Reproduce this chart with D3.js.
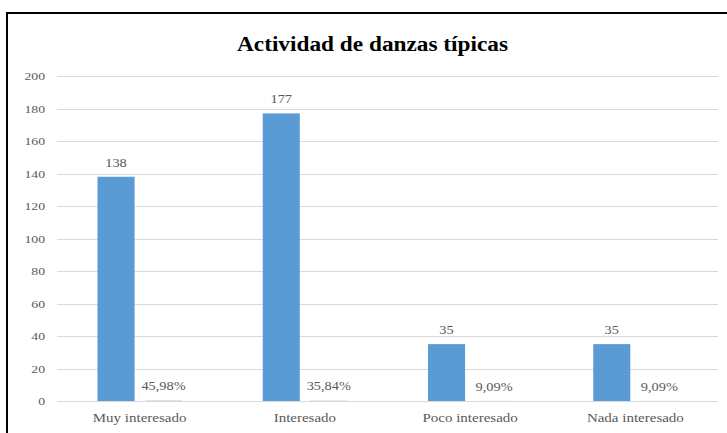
<!DOCTYPE html>
<html><head><meta charset="utf-8">
<script src="https://cdn.jsdelivr.net/npm/d3@7"></script>
<style>
html,body{margin:0;padding:0;background:#fff;}
svg{display:block;}
</style></head>
<body>
<svg id="chart" width="727" height="433"></svg>
<script>
const title = "Actividad de danzas típicas";
const categories = ["Muy interesado", "Interesado", "Poco interesado", "Nada interesado"];
const counts = [138, 177, 35, 35];
const percents = [0.4598, 0.3584, 0.0909, 0.0909];
const percentLabels = ["45,98%", "35,84%", "9,09%", "9,09%"];
const yTicks = [0, 20, 40, 60, 80, 100, 120, 140, 160, 180, 200];
const seriesNames = ["count", "percent"];

const svg = d3.select("#chart");
const serif = '"Liberation Serif", "Times New Roman", serif';
const grey = "#595959";
const sx = 1.25;

// frame
svg.append("rect").attr("x", 7).attr("y", 13).attr("width", 760).attr("height", 460)
  .attr("fill", "none").attr("stroke", "#000").attr("stroke-width", 2);

svg.append("text").attr("x", 237).attr("y", 51)
  .style("font-family", serif).attr("font-weight", "bold").attr("font-size", 20)
  .attr("textLength", 271).attr("lengthAdjust", "spacingAndGlyphs")
  .attr("fill", "#000").text(title);

const plot = {left: 57, right: 718, top: 76, bottom: 401};
const y = d3.scaleLinear().domain([0, 200]).range([plot.bottom, plot.top]);
const x0 = d3.scaleBand().domain(categories).range([plot.left, plot.right]).padding(0);
const bw = x0.bandwidth();
const x1 = d3.scaleBand().domain(seriesNames).range([bw * 0.245, bw * 0.757]).paddingInner(0.22);

// grid
svg.append("g").selectAll("line").data(yTicks).join("line")
  .attr("x1", plot.left).attr("x2", plot.right)
  .attr("y1", d => Math.round(y(d)) + 0.5).attr("y2", d => Math.round(y(d)) + 0.5)
  .attr("stroke", "#d9d9d9").attr("stroke-width", 1);

// y axis labels
const yAxis = d3.axisLeft(y).tickValues(yTicks).tickSize(0).tickPadding(0);
const ya = svg.append("g").attr("transform", `translate(45,0)`).call(yAxis);
ya.select(".domain").remove();
ya.selectAll("text").attr("x", 0).style("font-family", serif).attr("font-size", 11).attr("fill", grey)
  .attr("transform", `scale(${sx},1)`);

// x axis labels
const xAxis = d3.axisBottom(x0).tickSize(0).tickPadding(0);
const xa = svg.append("g").attr("transform", `translate(0,${plot.bottom + 12})`).call(xAxis);
xa.select(".domain").remove();
xa.selectAll("text").style("font-family", serif).attr("font-size", 12.5).attr("fill", grey)
  .attr("transform", `scale(1.2,1)`);

const rows = categories.map((c, i) => ({c, count: counts[i], pct: percents[i], pl: percentLabels[i]}));
const g = svg.append("g");
g.selectAll("rect.c").data(rows).join("rect").attr("class", "c")
  .attr("x", d => x0(d.c) + x1("count")).attr("width", x1.bandwidth())
  .attr("y", d => y(d.count)).attr("height", d => y(0) - y(d.count))
  .attr("fill", "#5b9bd5");
g.selectAll("rect.p").data(rows).join("rect").attr("class", "p")
  .attr("x", d => x0(d.c) + x1("percent")).attr("width", x1.bandwidth())
  .attr("y", d => y(d.pct)).attr("height", d => y(0) - y(d.pct))
  .attr("fill", "#d9d9d9");
g.selectAll("text.c").data(rows).join("text").attr("class", "c")
  .attr("transform", d => `translate(${x0(d.c) + x1("count") + x1.bandwidth() / 2},${y(d.count) - 10}) scale(${sx},1)`)
  .attr("text-anchor", "middle").style("font-family", serif).attr("font-size", 11.5)
  .attr("fill", grey).text(d => d.count);
g.selectAll("text.p").data(rows).join("text").attr("class", "p")
  .attr("transform", d => `translate(${x0(d.c) + x1("percent") + x1.bandwidth() / 2},${y(d.pct) - 10}) scale(${sx},1)`)
  .attr("text-anchor", "middle").style("font-family", serif).attr("font-size", 11.5)
  .attr("fill", grey).text(d => d.pl);
</script>
</body></html>
